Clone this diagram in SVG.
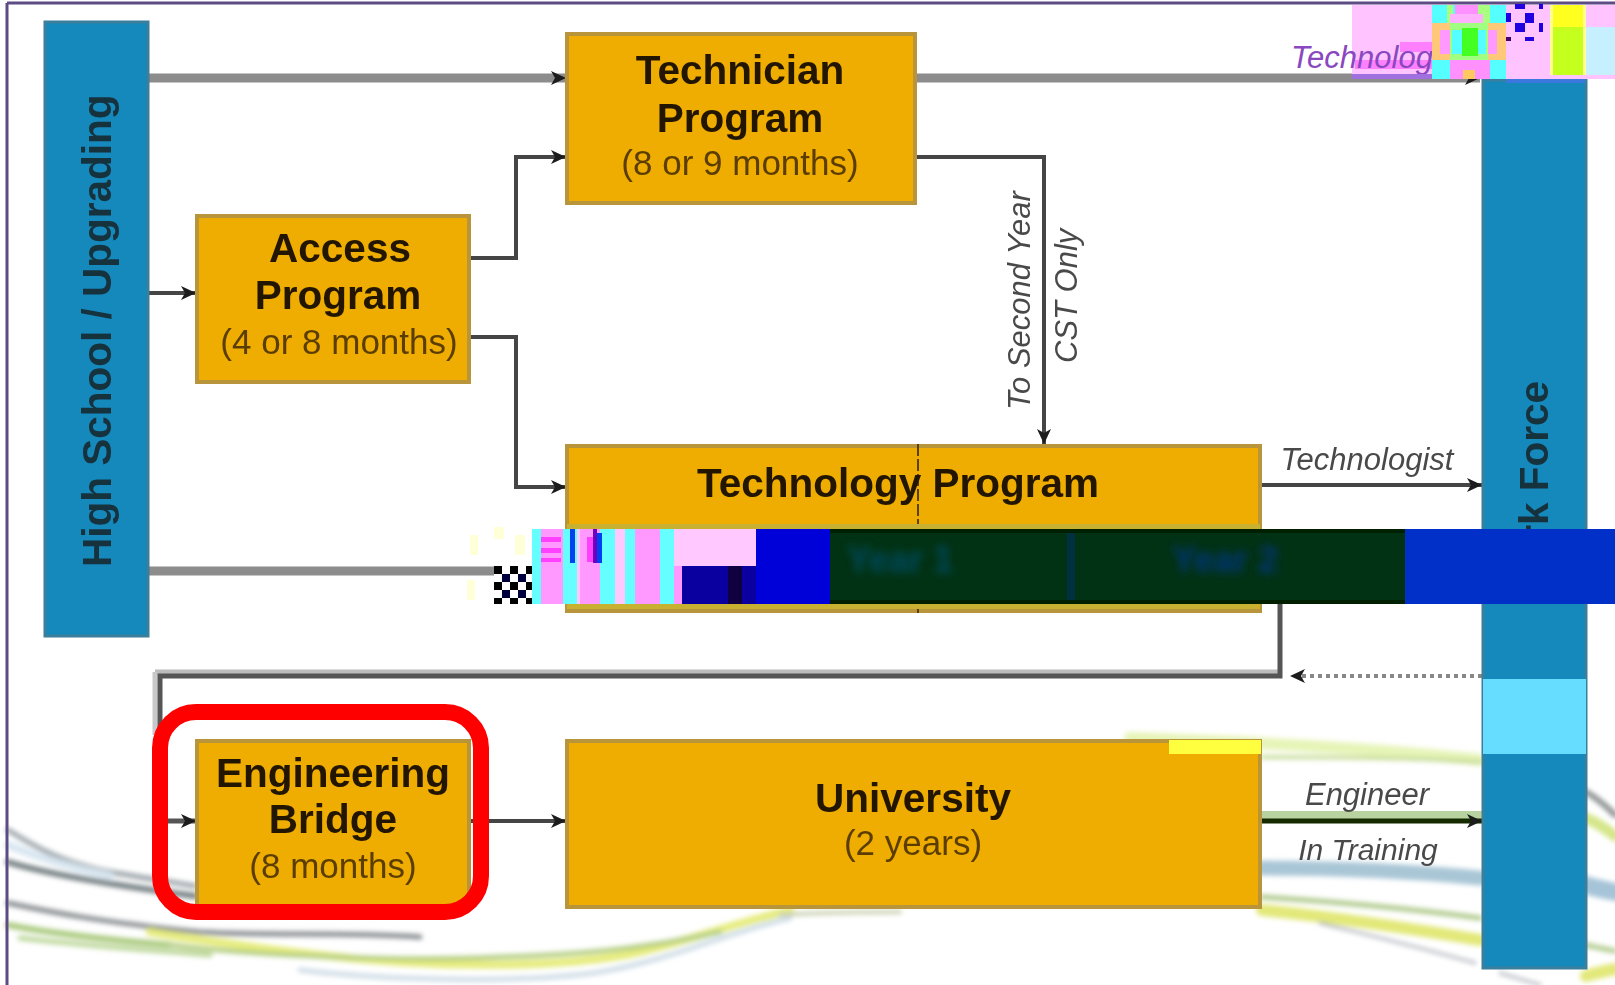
<svg xmlns="http://www.w3.org/2000/svg" width="1615" height="985" viewBox="0 0 1615 985">
<style>
.n{fill:#eead00;stroke:#b8953a;stroke-width:4}
.b{fill:#1789bc;stroke:#3a7f9c;stroke-width:3}
text{font-family:"Liberation Sans",Arial,sans-serif}
.t{font-weight:700;font-size:40.5px;fill:#241500;text-anchor:middle}
.s{font-size:35px;fill:#5c3e02;text-anchor:middle}
.l{font-style:italic;font-size:31px;fill:#4a4a4a;text-anchor:middle}
.c{fill:none;stroke:#444;stroke-width:4}
.g{fill:none;stroke:#8c8c8c;stroke-width:9}
.w{fill:none;stroke-linecap:round}
.nd{filter:url(#bl)}
</style>
<defs>
<marker id="a" markerUnits="userSpaceOnUse" markerWidth="16" markerHeight="18" refX="15" refY="9" orient="auto"><path d="M0,2L15,9L0,16L4,9Z" fill="#1c1c1c"/></marker>
<filter id="sw" x="-5%" y="-20%" width="110%" height="140%"><feGaussianBlur stdDeviation="2.4"/></filter>
<filter id="bl" x="-5%" y="-5%" width="110%" height="110%"><feGaussianBlur stdDeviation="0.7"/></filter>
<filter id="gh" x="-20%" y="-40%" width="140%" height="180%"><feGaussianBlur stdDeviation="4"/></filter>
<pattern id="ck" patternUnits="userSpaceOnUse" width="16" height="16" x="494" y="566"><rect width="16" height="16" fill="#fff"/><rect width="8" height="8" fill="#000"/><rect x="8" y="8" width="8" height="8" fill="#00003c"/></pattern>
</defs>
<rect width="1615" height="985" fill="#fff"/>
<g id="swooshes" filter="url(#sw)">
<path class="w" d="M8,830C40,850 60,860 100,870C130,876 160,880 195,886" stroke="#9aa3a8" stroke-width="5"/>
<path class="w" d="M8,845C40,858 70,868 110,876" stroke="#d8e6f0" stroke-width="8"/>
<path class="w" d="M8,862C40,872 90,882 195,896" stroke="#6f7a7e" stroke-width="6"/>
<path class="w" d="M8,903C50,912 100,922 200,932C270,936 340,932 420,937" stroke="#858a8e" stroke-width="5"/>
<path class="w" d="M8,925C60,935 110,940 170,945" stroke="#a9c97c" stroke-width="6"/>
<path class="w" d="M20,938C90,946 150,950 210,955" stroke="#bcd79a" stroke-width="5"/>
<path class="w" d="M150,932C210,942 260,948 320,955C420,967 560,970 640,952C690,940 730,925 790,910" stroke="#e6ec7e" stroke-width="8"/>
<path class="w" d="M170,945C250,955 400,962 500,957C570,955 640,950 720,932" stroke="#b5cf86" stroke-width="5"/>
<path class="w" d="M300,970C380,980 520,984 600,972C670,960 720,935 790,918" stroke="#cfdde6" stroke-width="5"/>
<path class="w" d="M780,915C820,912 860,912 900,912" stroke="#c8cfae" stroke-width="4"/>
<path class="w" d="M1130,738C1250,742 1380,748 1480,760" stroke="#e6f4b8" stroke-width="12"/>
<path class="w" d="M1262,757C1340,757 1420,758 1480,762" stroke="#c6dc98" stroke-width="4"/>
<path class="w" d="M1262,868C1340,868 1420,872 1480,878" stroke="#a9c6d6" stroke-width="15"/>
<path class="w" d="M1262,897C1340,902 1420,910 1480,918" stroke="#aec98a" stroke-width="5"/>
<path class="w" d="M1262,910C1340,918 1420,930 1480,940" stroke="#e2e878" stroke-width="12"/>
<path class="w" d="M1320,923C1380,938 1430,950 1475,963" stroke="#b4b8c0" stroke-width="3"/>
<path class="w" d="M1500,973L1540,985" stroke="#b4b8c0" stroke-width="3"/>
<path class="w" d="M1586,792C1595,797 1605,805 1615,815" stroke="#8a9090" stroke-width="6"/>
<path class="w" d="M1586,818C1595,822 1605,828 1615,836" stroke="#d4e688" stroke-width="11"/>
<path class="w" d="M1586,885C1595,888 1605,890 1615,892" stroke="#a6c4d8" stroke-width="18"/>
<path class="w" d="M1586,945C1595,947 1605,949 1615,951" stroke="#b2cc90" stroke-width="5"/>
<path class="w" d="M1586,976C1595,973 1605,971 1615,969" stroke="#e2e878" stroke-width="12"/>
</g>
<path d="M7,3V985M7,3H1615" fill="none" stroke="#5d4b83" stroke-width="3"/>
<g id="connectors" class="nd">
<path class="g" d="M148,78H566" marker-end="url(#a)"/>
<path class="g" d="M915,78H1480" marker-end="url(#a)"/>
<path class="c" d="M469,258H516V157H566" marker-end="url(#a)"/>
<path class="c" d="M469,337H516V487H566" marker-end="url(#a)"/>
<path class="c" d="M148,293H196" marker-end="url(#a)"/>
<path class="c" d="M915,157H1044V444" marker-end="url(#a)"/>
<path class="c" d="M1260,485H1482" marker-end="url(#a)"/>
<path class="g" d="M148,571H500"/>
<path d="M155,672H1280" fill="none" stroke="#bcbcbc" stroke-width="5"/>
<path d="M155,672V735" fill="none" stroke="#c8c8c8" stroke-width="5"/>
<path d="M1280,604V676H160V821H196" fill="none" stroke="#555" stroke-width="5" marker-end="url(#a)"/>
<path d="M1482,676H1290" fill="none" stroke="#888" stroke-width="4" stroke-dasharray="4 4" marker-end="url(#a)"/>
<path d="M1501,604V676" fill="none" stroke="#145a7a" stroke-width="3" stroke-dasharray="5 4"/>
<path class="c" d="M469,821H566" marker-end="url(#a)"/>
<path d="M1260,817H1482" fill="none" stroke="#a8c888" stroke-width="12" opacity=".8"/>
<path d="M1260,821H1482" fill="none" stroke="#142a00" stroke-width="5" marker-end="url(#a)"/>
</g>
<g id="high-school" class="nd"><rect class="b" x="45" y="22" width="103" height="614"/><text class="t" style="fill:#14303c;text-anchor:start" transform="translate(111,567) rotate(-90)">High School / Upgrading</text></g>
<g id="work-force" class="nd"><rect class="b" x="1483" y="80" width="103" height="888"/><text class="t" style="fill:#14303c;text-anchor:end" transform="translate(1548,381) rotate(-90)">Work Force</text></g>
<g id="technician" class="nd"><rect class="n" x="567" y="34" width="348" height="169"/><text class="t" x="740" y="84">Technician</text><text class="t" x="740" y="132">Program</text><text class="s" x="740" y="175">(8 or 9 months)</text></g>
<g id="access" class="nd"><rect class="n" x="197" y="216" width="272" height="166"/><text class="t" x="340" y="262">Access</text><text class="t" x="338" y="309">Program</text><text class="s" x="339" y="354">(4 or 8 months)</text></g>
<g id="technology" class="nd"><rect class="n" x="567" y="446" width="693" height="165"/><path d="M918,444V613" stroke="#5a4300" stroke-width="2" stroke-dasharray="12 3"/><text class="t" x="898" y="497">Technology Program</text></g>
<g id="bridge" class="nd"><rect class="n" x="197" y="741" width="272" height="165"/><text class="t" x="333" y="787">Engineering</text><text class="t" x="333" y="833">Bridge</text><text class="s" x="333" y="878">(8 months)</text></g>
<g id="university" class="nd"><rect class="n" x="567" y="741" width="693" height="166"/><text class="t" x="913" y="812">University</text><text class="s" x="913" y="855">(2 years)</text></g>
<g id="top-glitch">
<rect x="1352" y="5" width="263" height="74" fill="#ffc4ff"/>
<g fill="#ff80ff"><rect x="1355" y="60" width="77" height="9"/><rect x="1400" y="42" width="32" height="10"/></g>
<text class="l" style="fill:#8a48c0;text-anchor:start" x="1291" y="68">Technologist</text>
<rect x="1352" y="74" width="80" height="5" fill="#a070e0"/>
<rect x="1432" y="5" width="74" height="74" fill="#55ffff"/>
<rect x="1447" y="5" width="6" height="18" fill="#a8ff80"/><rect x="1478" y="5" width="12" height="18" fill="#a8ff80"/>
<rect x="1455" y="5" width="23" height="18" fill="#ff90ff"/><rect x="1450" y="14" width="33" height="9" fill="#ffb0ff"/>
<rect x="1432" y="23" width="74" height="37" fill="#ffc878"/>
<rect x="1440" y="30" width="57" height="24" fill="#ff99ff"/>
<rect x="1450" y="23" width="38" height="37" fill="#a0ff80"/>
<rect x="1452" y="30" width="34" height="24" fill="#55ffff"/>
<rect x="1462" y="28" width="16" height="28" fill="#44ff22"/>
<rect x="1450" y="60" width="40" height="19" fill="#ff90ff"/>
<rect x="1463" y="70" width="12" height="9" fill="#ffc860"/>
<rect x="1550" y="5" width="36" height="70" fill="#ffff90"/>
<rect x="1553" y="5" width="30" height="22" fill="#ffff20"/>
<rect x="1553" y="27" width="30" height="48" fill="#c4ff1e"/>
<rect x="1586" y="27" width="29" height="48" fill="#c6f0ff"/>
<g fill="#2000e0"><rect x="1515" y="4" width="10" height="5"/><rect x="1539" y="4" width="4" height="5"/><rect x="1506" y="13" width="5" height="9"/><rect x="1525" y="13" width="9" height="10"/><rect x="1515" y="23" width="10" height="9"/><rect x="1539" y="23" width="4" height="9"/><rect x="1525" y="37" width="9" height="4"/><rect x="1506" y="37" width="5" height="4" fill="#400070"/></g>
<rect x="1506" y="79" width="79" height="4" fill="#3a78e0"/>
</g>
<g id="band">
<g fill="#ffffd8"><rect x="470" y="535" width="8" height="20"/><rect x="494" y="527" width="10" height="12"/><rect x="515" y="535" width="10" height="20"/><rect x="467" y="580" width="8" height="20"/></g>
<rect x="567" y="524" width="693" height="5" fill="#c8b030"/>
<rect x="567" y="604" width="693" height="5" fill="#c8b030"/>
<rect x="494" y="566" width="38" height="38" fill="url(#ck)"/>
<rect x="532" y="529" width="150" height="75" fill="#ff99ff"/>
<g fill="#66ffff"><rect x="532" width="9" y="529" height="75"/><rect x="563" width="14" y="529" height="75"/><rect x="600" width="15" y="529" height="75"/><rect x="625" width="10" y="529" height="75"/><rect x="660" width="14" y="529" height="75"/></g>
<g fill="#ffc8ff"><rect x="577" width="3" y="529" height="75"/><rect x="615" width="10" y="529" height="75"/><rect x="674" width="8" y="529" height="37"/></g>
<g fill="#ff40ff"><rect x="541" y="537" width="20" height="5"/><rect x="541" y="548" width="20" height="5"/><rect x="541" y="558" width="20" height="4"/><rect x="587" y="537" width="6" height="25"/></g>
<g fill="#0040f0"><rect x="570" y="529" width="5" height="34"/><rect x="597" y="533" width="5" height="30"/></g>
<rect x="593" y="529" width="4" height="34" fill="#7000c0"/>
<rect x="682" y="529" width="74" height="37" fill="#ffc8ff"/>
<rect x="682" y="566" width="74" height="38" fill="#0a00a0"/>
<rect x="728" y="566" width="14" height="38" fill="#100040"/>
<rect x="756" y="529" width="74" height="75" fill="#0000d8"/>
<rect x="830" y="529" width="575" height="75" fill="#013214"/>
<rect x="830" y="529" width="575" height="4" fill="#002000"/>
<rect x="830" y="600" width="575" height="4" fill="#002000"/>
<rect x="1405" y="529" width="210" height="75" fill="#0030c8"/>
<rect x="1067" y="533" width="8" height="67" fill="#013040"/>
<text filter="url(#gh)" style="font-weight:700;font-size:36px;fill:#024a60;text-anchor:middle" x="900" y="572">Year 1</text>
<text filter="url(#gh)" style="font-weight:700;font-size:36px;fill:#02347a;text-anchor:middle" x="1225" y="572">Year 2</text>
</g>
<rect x="1483" y="679" width="103" height="75" fill="#66dcff"/>
<rect x="1169" y="740" width="92" height="14" fill="#ffff40"/>
<g id="labels" class="nd">
<text class="l" x="1367" y="470">Technologist</text>
<text class="l" x="1367" y="805">Engineer</text>
<text class="l" x="1368" y="860" style="font-size:30px">In Training</text>
<text class="l" transform="translate(1030,410) rotate(-90)" style="text-anchor:start;font-size:31px">To Second Year</text>
<text class="l" transform="translate(1077,363) rotate(-90)" style="text-anchor:start">CST Only</text>
</g>
<rect id="highlight" x="160" y="712" width="321" height="200" rx="36" ry="36" fill="none" stroke="#ff0000" stroke-width="16"/>
</svg>
